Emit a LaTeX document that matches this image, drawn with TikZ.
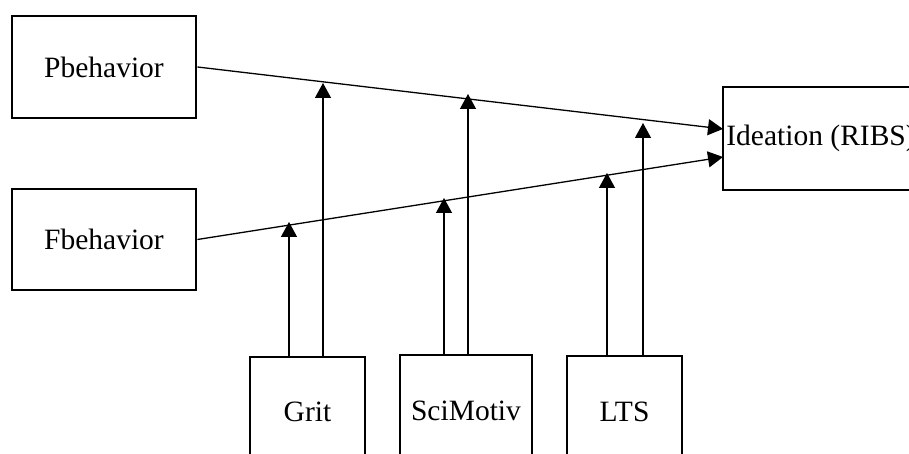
\documentclass[tikz,border=0pt]{standalone}
\usepackage{fontspec}
\setmainfont{Liberation Serif}
\usetikzlibrary{arrows.meta}
\begin{document}
\begin{tikzpicture}[x=1pt,y=1pt,
  box/.style={draw,line width=2.9pt,inner sep=0pt,font=\fontsize{29.5}{34}\selectfont},
  conn/.style={line width=1.3pt,-{Triangle[length=15pt,width=16pt]}}]
\useasboundingbox (0,0) rectangle (909,454);
\clip (0,0) rectangle (909,454);
\node[box,minimum width=184pt,minimum height=102pt] (pb) at (104,387) {Pbehavior};
\node[box,minimum width=184pt,minimum height=101pt] (fb) at (104,214.5) {Fbehavior};
\node[box,minimum width=196pt,minimum height=103pt] (ide) at (821,315.5) {Ideation (RIBS)};
\node[box,minimum width=115pt,minimum height=110pt] (grit) at (307.5,42) {Grit};
\node[box,minimum width=132pt,minimum height=112pt] (sci) at (466,43) {SciMotiv};
\node[box,minimum width=115pt,minimum height=112pt] (lts) at (624.5,42) {LTS};
\coordinate (pI) at (723,325);
\coordinate (fI) at (723,297);
\coordinate (g1) at (289,232);
\coordinate (g2) at (323,371);
\coordinate (s1) at (444,256);
\coordinate (s2) at (468,360);
\coordinate (l1) at (607,281);
\coordinate (l2) at (643,331);
\draw[conn] (pb.east) -- (pI);
\draw[conn] (fb.east) -- (fI);
\draw[conn] (grit.north -| g1) -- (g1);
\draw[conn] (grit.north -| g2) -- (g2);
\draw[conn] (sci.north -| s1) -- (s1);
\draw[conn] (sci.north -| s2) -- (s2);
\draw[conn] (lts.north -| l1) -- (l1);
\draw[conn] (lts.north -| l2) -- (l2);
\end{tikzpicture}
\end{document}
